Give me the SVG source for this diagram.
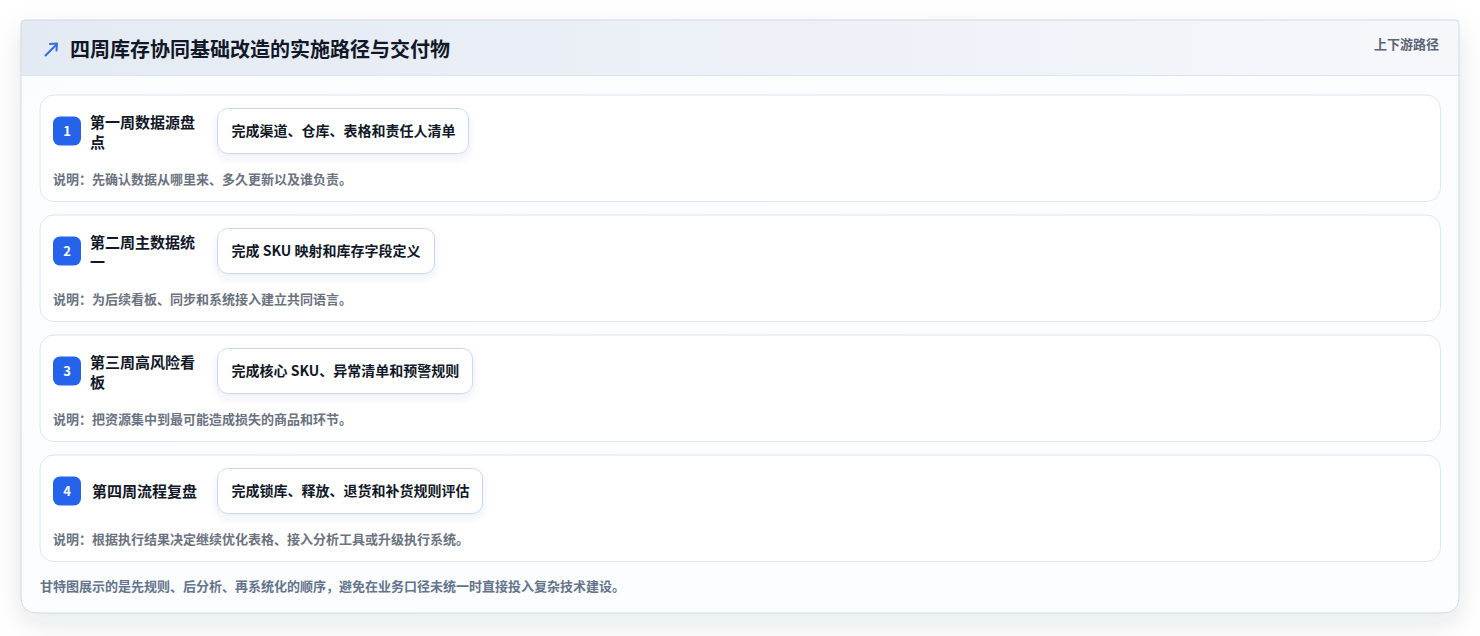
<svg xmlns="http://www.w3.org/2000/svg" width="1480" height="636" viewBox="0 0 1480 636">
<defs>
<linearGradient id="hdr" x1="0" y1="0" x2="1" y2="0">
<stop offset="0" stop-color="#e4eaf3"/>
<stop offset="1" stop-color="#f5f7fb"/>
</linearGradient>
<linearGradient id="body" x1="0" y1="0" x2="1" y2="1">
<stop offset="0" stop-color="#fbfcfe"/>
<stop offset="1" stop-color="#fcfdfe"/>
</linearGradient>
<filter id="cardShadow" x="-5%" y="-10%" width="110%" height="125%">
<feDropShadow dx="0" dy="10" stdDeviation="14" flood-color="#1e293b" flood-opacity="0.11"/>
</filter>
<filter id="boxShadow" x="-10%" y="-30%" width="120%" height="170%">
<feDropShadow dx="0" dy="4" stdDeviation="4" flood-color="#1e3a8a" flood-opacity="0.08"/>
</filter>
<clipPath id="cardClip">
<path d="M25 20 H1455 Q1459 20 1459 24 V597 Q1459 613 1443 613 H37 Q21 613 21 597 V24 Q21 20 25 20 Z"/>
</clipPath>
</defs>
<style>
text { font-family: "Noto Sans CJK SC", "Noto Sans", "Liberation Sans", sans-serif; }
.title { font-size: 20px; font-weight: 700; fill: #111827; }
.tag { font-size: 13px; font-weight: 600; fill: #5b6474; }
.row { fill: #ffffff; stroke: #dce6f4; stroke-width: 1; }
.badge { fill: #2563eb; }
.num { font-size: 13px; font-weight: 700; fill: #ffffff; text-anchor: middle; }
.step { font-size: 15px; font-weight: 700; fill: #111827; }
.box { fill: #ffffff; stroke: #c6d8f2; stroke-width: 1; }
.deliv { font-size: 14px; font-weight: 700; fill: #111827; }
.desc { font-size: 13px; font-weight: 600; fill: #6b7280; }
.foot { font-size: 13px; font-weight: 600; fill: #64748b; }
</style>
<rect width="1480" height="636" fill="#ffffff"/>
<g id="card">
<path d="M25 20 H1455 Q1459 20 1459 24 V597 Q1459 613 1443 613 H37 Q21 613 21 597 V24 Q21 20 25 20 Z" fill="url(#body)" filter="url(#cardShadow)"/>
<g clip-path="url(#cardClip)">
<rect x="21" y="20" width="1438" height="55.5" fill="url(#hdr)"/>
</g>
<line x1="21" y1="75.5" x2="1459" y2="75.5" stroke="#dbe4f2" stroke-width="1"/>
<path d="M25 20 H1455 Q1459 20 1459 24 V597 Q1459 613 1443 613 H37 Q21 613 21 597 V24 Q21 20 25 20 Z" fill="none" stroke="#d3dae6" stroke-width="1"/>
</g>
<g id="header">
<g stroke="#2f6fe0" stroke-width="2" fill="none" stroke-linecap="round" stroke-linejoin="round">
<line x1="45.5" y1="55.5" x2="56" y2="45"/>
<polyline points="50,44 57,43.5 56.5,50.5"/>
</g>
<text class="title" x="70" y="57">四周库存协同基础改造的实施路径与交付物</text>
<text class="tag" x="1439" y="49" text-anchor="end">上下游路径</text>
</g>
<g id="step1">
<rect class="row" x="40" y="95" width="1400.5" height="106.5" rx="14"/>
<rect class="badge" x="53" y="116.5" width="28" height="29" rx="7"/>
<text class="num" x="67" y="135.5">1</text>
<text class="step" x="90" y="128">第一周数据源盘</text>
<text class="step" x="90" y="147.5">点</text>
<rect class="box" x="217.5" y="108.5" width="251" height="45" rx="10" filter="url(#boxShadow)"/>
<text class="deliv" x="231.5" y="136">完成渠道、仓库、表格和责任人清单</text>
<text class="desc" x="53" y="184">说明：先确认数据从哪里来、多久更新以及谁负责。</text>
</g>
<g id="step2">
<rect class="row" x="40" y="215" width="1400.5" height="106.5" rx="14"/>
<rect class="badge" x="53" y="236.5" width="28" height="29" rx="7"/>
<text class="num" x="67" y="255.5">2</text>
<text class="step" x="90" y="248">第二周主数据统</text>
<text class="step" x="90" y="267.5">一</text>
<rect class="box" x="217.5" y="228.5" width="217" height="45" rx="10" filter="url(#boxShadow)"/>
<text class="deliv" x="231.5" y="256">完成 SKU 映射和库存字段定义</text>
<text class="desc" x="53" y="304">说明：为后续看板、同步和系统接入建立共同语言。</text>
</g>
<g id="step3">
<rect class="row" x="40" y="335" width="1400.5" height="106.5" rx="14"/>
<rect class="badge" x="53" y="356.5" width="28" height="29" rx="7"/>
<text class="num" x="67" y="375.5">3</text>
<text class="step" x="90" y="368">第三周高风险看</text>
<text class="step" x="90" y="387.5">板</text>
<rect class="box" x="217.5" y="348.5" width="255" height="45" rx="10" filter="url(#boxShadow)"/>
<text class="deliv" x="231.5" y="376">完成核心 SKU、异常清单和预警规则</text>
<text class="desc" x="53" y="424">说明：把资源集中到最可能造成损失的商品和环节。</text>
</g>
<g id="step4">
<rect class="row" x="40" y="455" width="1400.5" height="106.5" rx="14"/>
<rect class="badge" x="53" y="476.5" width="28" height="29" rx="7"/>
<text class="num" x="67" y="495.5">4</text>
<text class="step" x="92" y="497">第四周流程复盘</text>
<rect class="box" x="217.5" y="468.5" width="265" height="45" rx="10" filter="url(#boxShadow)"/>
<text class="deliv" x="231.5" y="496">完成锁库、释放、退货和补货规则评估</text>
<text class="desc" x="53" y="544">说明：根据执行结果决定继续优化表格、接入分析工具或升级执行系统。</text>
</g>
<g id="connectors"/>
<g id="footer">
<text class="foot" x="40" y="591">甘特图展示的是先规则、后分析、再系统化的顺序，避免在业务口径未统一时直接投入复杂技术建设。</text>
</g>
</svg>
